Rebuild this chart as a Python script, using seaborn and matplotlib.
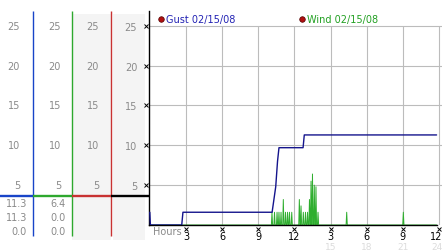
import numpy as np
import pandas as pd
import seaborn as sns
import matplotlib
matplotlib.use("Agg")
import matplotlib.pyplot as plt
import matplotlib.transforms as mtransforms
from matplotlib.lines import Line2D
from matplotlib.patches import Rectangle

# ---------------- data ----------------
gust_hours = [0.0, 0.05, 2.65, 2.75, 10.15, 10.3, 10.45, 10.6, 10.72, 12.72, 12.82, 23.8]
gust_mph = [1.6, 0.0, 0.0, 1.6, 1.6, 3.2, 4.8, 8.0, 9.7, 9.7, 11.3, 11.3]

wind_peak_hours = [10.14, 10.35, 10.56, 10.72, 10.89, 11.08, 11.26, 11.43, 11.59, 11.78,
                   12.41, 12.55, 12.74, 12.92, 13.09, 13.25, 13.38, 13.50, 13.65, 13.79, 13.96,
                   16.34, 21.04]
wind_peak_mph = [1.6, 1.6, 1.6, 1.6, 1.6, 3.2, 1.6, 1.6, 1.6, 1.6,
                 3.2, 2.4, 1.6, 1.6, 1.6, 3.2, 5.5, 6.4, 5.0, 4.8, 1.6,
                 1.6, 1.6]
wind_start_end = [0.0, 23.8]

y_ticks = [5, 10, 15, 20, 25]
x_ticks = [3, 6, 9, 12, 15, 18, 21, 24]
x_labels = ["3", "6", "9", "12", "3", "6", "9", "12"]
x_labels_24h = ["15", "18", "21", "24"]
legend_labels = ["Gust 02/15/08", "Wind 02/15/08"]
gust_summary = ["11.3", "11.3", "0.0"]
wind_summary = ["6.4", "0.0", "0.0"]

# ---------------- style ----------------
sns.set_style("white")
plt.rcParams["font.family"] = ["DejaVu Sans"]

NAVY = "#14148c"
GUST_TXT = "#2323b4"
WIND = "#2fae2f"
WIND_TXT = "#22a022"
BLUE = "#1844c8"
GREEN = "#2ea82e"
RED = "#c83232"
GRAY = "#8a8a8a"
GRID = "#bcbcbc"
FS = 7

W, H = 442, 253
fig = plt.figure(figsize=(W / 100, H / 100), dpi=100)


def px_axes(l, t, r, b):
    return fig.add_axes([l / W, 1 - b / H, (r - l) / W, (b - t) / H])


PXU = 7.97  # pixels per mph
X0 = 149.8  # pixel of hour 0
PXH = 12.05  # pixels per hour
ytop = (226 - 12) / PXU

axl = px_axes(0, 12, 149, 226)
ax = px_axes(149, 12, 442, 226)
axl.set_zorder(1)
ax.set_zorder(2)
ax.patch.set_alpha(0)

# ---------------- main chart ----------------
ax.set_xlim((149 - X0) / PXH, (442 - X0) / PXH)
ax.set_ylim(0, ytop)
for s in ["top", "right"]:
    ax.spines[s].set_visible(False)
ax.spines["left"].set_color("black")
ax.spines["left"].set_linewidth(1.0)
ax.spines["bottom"].set_color("black")
ax.spines["bottom"].set_linewidth(1.0)
ax.spines["bottom"].set_bounds(ax.get_xlim()[0], 23.85)

ax.set_yticks(y_ticks)
ax.set_yticklabels([str(v) for v in y_ticks])
ax.set_xticks(x_ticks)
ax.set_xticklabels(x_labels)
ax.tick_params(axis="y", length=0, pad=8.5, labelsize=FS, labelcolor=GRAY)
ax.tick_params(axis="x", length=0, pad=4.6, labelsize=FS, labelcolor="black")
ax.grid(axis="y", color=GRID, lw=0.8)
ax.grid(axis="x", visible=False)
ax.vlines(x_ticks, 0, 25, colors=GRID, lw=0.8, zorder=1)

# keep the last hour label inside the picture
last = ax.get_xticklabels()[-1]
last.set_horizontalalignment("right")
last.set_transform(last.get_transform() +
                   mtransforms.ScaledTranslation(3.5 / 100, 0, fig.dpi_scale_trans))

# tick glyphs
ax.plot(x_ticks, [-0.45] * len(x_ticks), ls="", marker="x", ms=2.4, mew=0.7,
        color="black", clip_on=False, zorder=5)
ax.plot([-0.3] * len(y_ticks), y_ticks, ls="", marker="x", ms=2.4, mew=0.7,
        color="black", clip_on=False, zorder=5)

for h, lab in zip(x_ticks[4:], x_labels_24h):
    t = ax.text(h, -2.65, lab, ha="center", va="center", fontsize=6.5, color="#dcdcdc")
    if lab == x_labels_24h[-1]:
        t.set_horizontalalignment("right")
        t.set_transform(t.get_transform() +
                        mtransforms.ScaledTranslation(3.5 / 100, 0, fig.dpi_scale_trans))
ax.text(0.25, -0.75, "Hours", ha="left", va="center", fontsize=FS, color=GRAY)

# wind series: zero between gusty readings
wt, wv = [wind_start_end[0]], [0.0]
for h, v in zip(wind_peak_hours, wind_peak_mph):
    wt += [h - 0.05, h, h + 0.05]
    wv += [0.0, v, 0.0]
wt.append(wind_start_end[1])
wv.append(0.0)
wind_df = pd.DataFrame({"hour": wt, "mph": wv})
gust_df = pd.DataFrame({"hour": gust_hours, "mph": gust_mph})

sns.lineplot(data=wind_df, x="hour", y="mph", ax=ax, color=WIND, lw=0.7,
             estimator=None, sort=False, zorder=2)
sns.lineplot(data=gust_df, x="hour", y="mph", ax=ax, color=NAVY, lw=1.0,
             estimator=None, sort=False, zorder=3)
ax.set_xlabel("")
ax.set_ylabel("")

handles = [Line2D([], [], ls="", marker="o", ms=4, color="#b01010", mec="#500000", mew=0.5)
           for _ in legend_labels]
leg = ax.legend(handles, legend_labels, ncol=2, loc="center left",
                bbox_to_anchor=((158 - 149) / 293, (226 - 20.5) / 214),
                frameon=False, fontsize=FS, handlelength=0.6, handletextpad=0.25,
                columnspacing=6.5, borderpad=0, borderaxespad=0)
for t, c in zip(leg.get_texts(), [GUST_TXT, WIND_TXT]):
    t.set_color(c)

# ---------------- left summary columns ----------------
axl.set_xlim(0, 149)
axl.set_ylim(0, ytop)
axl.axis("off")


def pv(py):
    return (226 - py) / PXU


axl.add_patch(Rectangle((72, pv(241)), 39, pv(15) - pv(241), fc="#f4f4f4", ec="none",
                        clip_on=False, zorder=0))
axl.add_patch(Rectangle((113, pv(241)), 32, pv(15) - pv(241), fc="#f4f4f4", ec="none",
                        clip_on=False, zorder=0))
vl = axl.vlines([33.3, 72.3, 111.3], pv(237), ytop, colors=[BLUE, GREEN, RED], lw=1.0)
vl.set_clip_on(False)
sep = axl.hlines([pv(197)] * 4, [0, 33.3, 72.3, 111.3], [33.3, 72.3, 111.3, 149],
                 colors=[BLUE, GREEN, RED, "black"], lw=1.7)
sep.set_clip_on(False)

for xr in [20, 61, 99]:
    for v in y_ticks:
        axl.text(xr, v, str(v), ha="right", va="center", fontsize=FS, color=GRAY)

for xr, vals in [(27, gust_summary), (66, wind_summary)]:
    for py, s in zip([204, 218, 232], vals):
        axl.text(xr, pv(py), s, ha="right", va="center", fontsize=FS, color=GRAY)

fig.savefig("out.png", dpi=100)
